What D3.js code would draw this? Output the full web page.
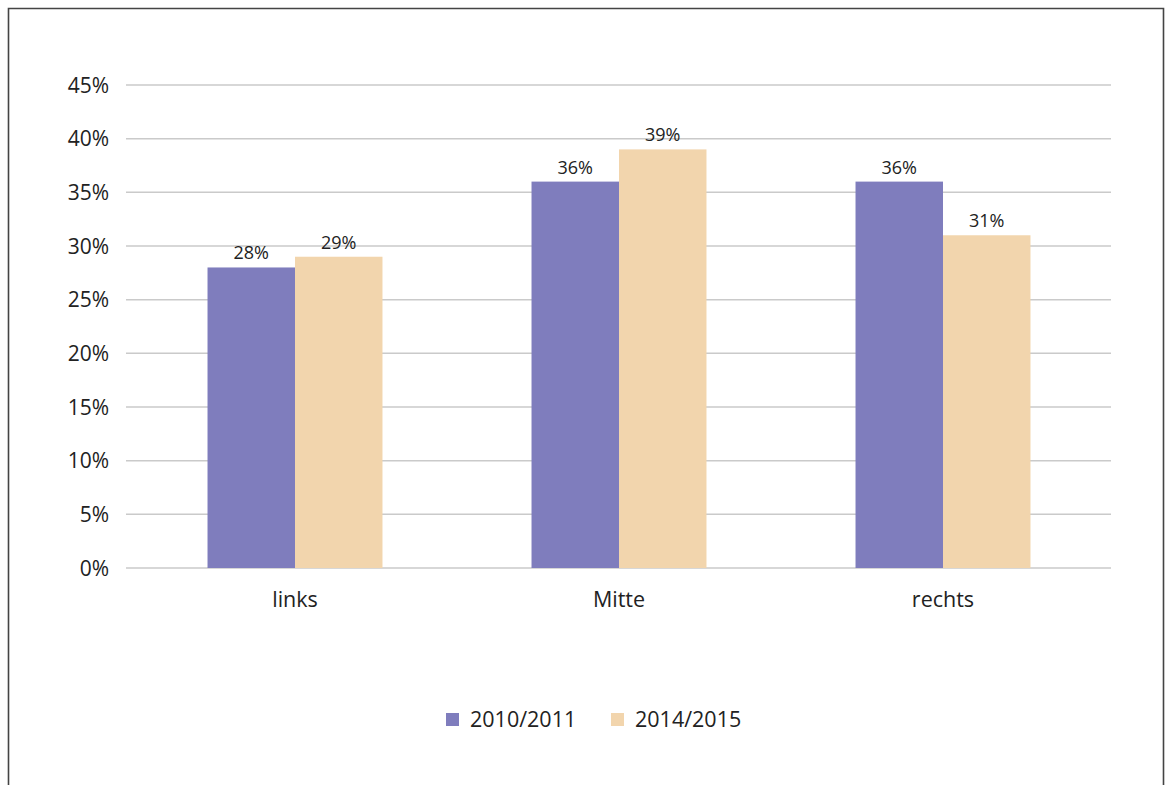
<!DOCTYPE html>
<html>
    <head>
        <meta charset="utf-8"/>
        <script src="https://cdnjs.cloudflare.com/ajax/libs/d3/7.8.5/d3.min.js"></script>
        <style>
            body { margin: 0; background: #fff; }
            text { font-family: "Open Sans", "Noto Sans", sans-serif; fill: #222; }
        </style>
    </head>
    <body>
        <script>
            // data
            const categories = ["links", "Mitte", "rechts"];
            const seriesNames = ["2010/2011", "2014/2015"];
            const values2010 = [0.28, 0.36, 0.36];
            const values2014 = [0.29, 0.39, 0.31];
            const yTicks = [0, 0.05, 0.10, 0.15, 0.20, 0.25, 0.30, 0.35, 0.40, 0.45];
            const colors = ["#7f7dbd", "#f2d5ad"];

            const width = 1170, height = 785;
            const plot = {left: 126, right: 1111, top: 85, bottom: 568};

            const svg = d3.select("body").append("svg")
                .attr("width", width)
                .attr("height", height);

            // outer frame (runs off the bottom edge)
            svg.append("path")
                .attr("d", `M8.5,${height + 5}V8.5H1163.5V${height + 5}`)
                .attr("fill", "none")
                .attr("stroke", "#444")
                .attr("stroke-width", 1.6);

            const x = d3.scaleBand()
                .domain(categories)
                .range([133, 1105])
                .paddingInner(0.46)
                .paddingOuter(0.23);

            const xs = d3.scaleBand()
                .domain(seriesNames)
                .range([0, x.bandwidth()]);

            const y = d3.scaleLinear()
                .domain([0, 0.45])
                .range([plot.bottom, plot.top]);

            // grid
            svg.append("g")
                .selectAll("line")
                .data(yTicks)
                .join("line")
                .attr("x1", plot.left)
                .attr("x2", plot.right)
                .attr("y1", d => y(d))
                .attr("y2", d => y(d))
                .attr("stroke", "#cacaca")
                .attr("stroke-width", 1.5);

            // y tick labels
            svg.append("g")
                .selectAll("text")
                .data(yTicks)
                .join("text")
                .attr("x", 109)
                .attr("y", d => y(d))
                .attr("dy", "0.36em")
                .attr("text-anchor", "end")
                .attr("font-size", 21)
                .text(d => Math.round(d * 100) + "%");

            const rows = categories.map((c, i) => ({cat: c, vals: [values2010[i], values2014[i]]}));

            const groups = svg.append("g")
                .selectAll("g")
                .data(rows)
                .join("g")
                .attr("transform", d => `translate(${x(d.cat)},0)`);

            groups.selectAll("rect")
                .data(d => d.vals.map((v, j) => ({key: seriesNames[j], v, j})))
                .join("rect")
                .attr("x", d => xs(d.key))
                .attr("width", xs.bandwidth())
                .attr("y", d => y(d.v))
                .attr("height", d => y(0) - y(d.v))
                .attr("fill", d => colors[d.j]);

            groups.selectAll("text.val")
                .data(d => d.vals.map((v, j) => ({key: seriesNames[j], v, j})))
                .join("text")
                .attr("class", "val")
                .attr("x", d => xs(d.key) + xs.bandwidth() / 2)
                .attr("y", d => y(d.v) - 8)
                .attr("text-anchor", "middle")
                .attr("font-size", 18)
                .text(d => Math.round(d.v * 100) + "%");

            // category labels
            svg.append("g")
                .selectAll("text")
                .data(categories)
                .join("text")
                .attr("x", d => x(d) + x.bandwidth() / 2)
                .attr("y", 607)
                .attr("text-anchor", "middle")
                .attr("font-size", 21.5)
                .text(d => d);

            // legend
            const legendX = [446, 611];
            const legend = svg.append("g")
                .selectAll("g")
                .data(seriesNames)
                .join("g")
                .attr("transform", (d, i) => `translate(${legendX[i]},713)`);
            legend.append("rect")
                .attr("width", 13)
                .attr("height", 13)
                .attr("fill", (d, i) => colors[i]);
            legend.append("text")
                .attr("x", 24)
                .attr("y", 6.5)
                .attr("dy", "0.36em")
                .attr("font-size", 21.5)
                .text(d => d);
        </script>
    </body>
</html>
